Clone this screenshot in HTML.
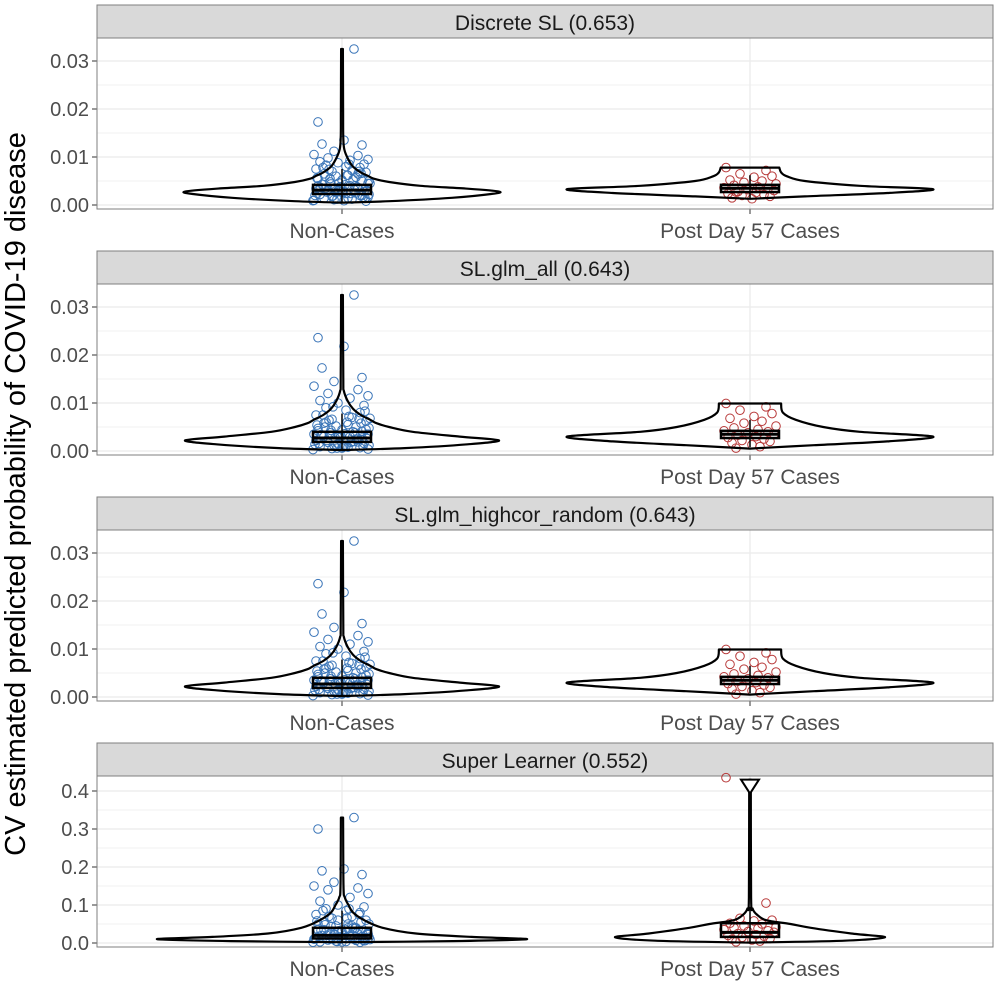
<!DOCTYPE html>
<html><head><meta charset="utf-8"><style>
body{margin:0;background:#fff;font-family:"Liberation Sans",sans-serif}
</style></head><body>
<svg id="c" width="1000" height="1000" xmlns="http://www.w3.org/2000/svg">
<text transform="translate(25,494) rotate(-90)" text-anchor="middle" font-size="29" fill="#000">CV estimated predicted probability of COVID-19 disease</text>
</svg>
<script>
const titles=["Discrete SL (0.653)","SL.glm_all (0.643)","SL.glm_highcor_random (0.643)","Super Learner (0.552)"];
const categories=["Non-Cases","Post Day 57 Cases"];
const tickVals=[[0,0.01,0.02,0.03],[0,0.01,0.02,0.03],[0,0.01,0.02,0.03],[0,0.1,0.2,0.3,0.4]];
const tickLabels=[["0.00","0.01","0.02","0.03"],["0.00","0.01","0.02","0.03"],["0.00","0.01","0.02","0.03"],["0.0","0.1","0.2","0.3","0.4"]];
const violinNon=[
[[0.0005,0],[0.0008,0.3],[0.0015,0.7],[0.0023,0.95],[0.0028,1],[0.0034,0.8],[0.004,0.5],[0.0048,0.3],[0.0055,0.2],[0.006,0.17],[0.0068,0.12],[0.008,0.07],[0.0095,0.04],[0.0115,0.015],[0.014,0.008],[0.02,0.007],[0.0325,0.006]],
[[0.0002,0],[0.0006,0.4],[0.0014,0.8],[0.0022,1],[0.003,0.75],[0.004,0.45],[0.005,0.3],[0.0058,0.22],[0.0065,0.18],[0.0075,0.12],[0.0088,0.07],[0.0105,0.035],[0.0125,0.012],[0.015,0.008],[0.0325,0.006]],
[[0.0002,0],[0.0006,0.4],[0.0014,0.8],[0.0022,1],[0.003,0.75],[0.004,0.45],[0.005,0.3],[0.0058,0.22],[0.0065,0.18],[0.0075,0.12],[0.0088,0.07],[0.0105,0.035],[0.0125,0.012],[0.015,0.008],[0.0325,0.006]],
[[0.002,0],[0.005,0.6],[0.01,1],[0.016,0.7],[0.025,0.4],[0.04,0.22],[0.06,0.12],[0.08,0.06],[0.1,0.035],[0.12,0.015],[0.15,0.008],[0.33,0.006]]];
const violinCase=[
[[0.0013,0],[0.0018,0.3],[0.0025,0.75],[0.0033,1],[0.004,0.6],[0.005,0.3],[0.006,0.2],[0.0068,0.17],[0.0078,0.16]],
[[0.0005,0],[0.0012,0.35],[0.002,0.75],[0.003,1],[0.004,0.6],[0.005,0.4],[0.0065,0.25],[0.008,0.18],[0.0099,0.17]],
[[0.0005,0],[0.0012,0.35],[0.002,0.75],[0.003,1],[0.004,0.6],[0.005,0.4],[0.0065,0.25],[0.008,0.18],[0.0099,0.17]],
[[0.001,0],[0.006,0.7],[0.015,1],[0.025,0.75],[0.04,0.45],[0.05,0.3],[0.06,0.12],[0.075,0.05],[0.09,0.02],[0.12,0.008],[0.43,0.006]]];
const violinMaxHalf=[[157,183],[157,183],[157,183],[185,135]];
const boxNon=[[0.0023,0.0031,0.0042,0.0005,0.0075],[0.0019,0.0027,0.0040,0.0003,0.0078],[0.0019,0.0027,0.0040,0.0003,0.0078],[0.012,0.020,0.040,0.001,0.085]];
const boxCase=[[0.0027,0.0035,0.0042,0.0013,0.0062],[0.0027,0.0035,0.0042,0.0008,0.0065],[0.0027,0.0035,0.0042,0.0008,0.0065],[0.016,0.028,0.052,0.002,0.095]];
const ptsNon=[
[0.0325,0.0173,0.0135,0.0127,0.0125,0.0112,0.0105,0.0103,0.0098,0.0095,0.0093,0.009,0.0088,0.0085,0.0083,0.008,0.0078,0.0075,0.0072,0.007,0.0068,0.0065,0.0062,0.006,0.0058,0.0055,0.0052,0.005,0.0048,0.0045,0.0043,0.004,0.0038,0.0036,0.0034,0.0032,0.003,0.0028,0.0026,0.0024,0.0022,0.002,0.0018,0.0016,0.0014,0.0012,0.001,0.0009,0.0008,0.003,0.0025,0.0035,0.0015,0.004,0.002,0.0011,0.0045,0.0055,0.0065,0.0028],
[0.0325,0.0236,0.0218,0.0173,0.0153,0.0145,0.0135,0.0128,0.012,0.0115,0.011,0.0105,0.01,0.0095,0.009,0.0085,0.008,0.0075,0.007,0.0066,0.0062,0.0058,0.0055,0.0052,0.005,0.0047,0.0044,0.0041,0.0038,0.0035,0.0032,0.003,0.0028,0.0025,0.0022,0.002,0.0018,0.0016,0.0013,0.0011,0.0009,0.0007,0.0005,0.0004,0.003,0.002,0.0035,0.001,0.0045,0.0015,0.0025,0.006,0.0008,0.0042,0.0027,0.0012,0.0068,0.0033,0.0019,0.0006],
[0.0325,0.0236,0.0218,0.0173,0.0153,0.0145,0.0135,0.0128,0.012,0.0115,0.011,0.0105,0.01,0.0095,0.009,0.0085,0.008,0.0075,0.007,0.0066,0.0062,0.0058,0.0055,0.0052,0.005,0.0047,0.0044,0.0041,0.0038,0.0035,0.0032,0.003,0.0028,0.0025,0.0022,0.002,0.0018,0.0016,0.0013,0.0011,0.0009,0.0007,0.0005,0.0004,0.003,0.002,0.0035,0.001,0.0045,0.0015,0.0025,0.006,0.0008,0.0042,0.0027,0.0012,0.0068,0.0033,0.0019,0.0006],
[0.33,0.3,0.195,0.19,0.18,0.16,0.15,0.145,0.14,0.13,0.12,0.11,0.1,0.095,0.09,0.085,0.08,0.075,0.07,0.065,0.06,0.055,0.05,0.045,0.04,0.035,0.03,0.028,0.025,0.022,0.02,0.018,0.016,0.014,0.012,0.01,0.008,0.006,0.005,0.004,0.003,0.002,0.015,0.025,0.035,0.045,0.01,0.02,0.03,0.06,0.007,0.012,0.04,0.05,0.017,0.023,0.009,0.011,0.013,0.003]];
const ptsNonDense=[
[0.0012,0.0016,0.002,0.0024,0.0027,0.003,0.0033,0.0036,0.004,0.0044,0.005,0.0056,0.0062,0.007,0.0078,0.0014,0.0019,0.0026,0.0032,0.0038,0.0046,0.0053,0.006,0.0066,0.0074,0.0085,0.0009,0.0022,0.0034,0.0042],
[0.0006,0.001,0.0014,0.0018,0.0022,0.0026,0.003,0.0034,0.0038,0.0043,0.0048,0.0054,0.006,0.0067,0.0075,0.0083,0.0092,0.0008,0.0016,0.0024,0.0032,0.004,0.005,0.0058,0.0064,0.0072,0.0003,0.0012,0.0028,0.0036],
[0.0006,0.001,0.0014,0.0018,0.0022,0.0026,0.003,0.0034,0.0038,0.0043,0.0048,0.0054,0.006,0.0067,0.0075,0.0083,0.0092,0.0008,0.0016,0.0024,0.0032,0.004,0.005,0.0058,0.0064,0.0072,0.0003,0.0012,0.0028,0.0036],
[0.004,0.008,0.012,0.016,0.02,0.024,0.028,0.033,0.038,0.044,0.05,0.058,0.066,0.075,0.085,0.006,0.01,0.014,0.018,0.026,0.032,0.04,0.048,0.055,0.07,0.09,0.002,0.015,0.022,0.036]];
const jitNon=[12,-24,2,-20,20,-8,-28,16,-14,26,8,-22,-4,22,-16,4,18,-26,10,-10,24,-18,6,-6,14,-24,0,20,-12,26,-20,8,-2,16,-26,12,-14,22,-6,4,-22,18,-10,26,-18,10,-28,2,24,-4,14,-16,6,-24,20,-8,28,-12,16,0];
const jitDense=[-5,21,-27,9,-15,25,-1,-21,13,-11,27,-25,5,17,-19,23,-9,1,-23,15,-3,11,-17,19,-13,7,-29,27,-7,3];
const ptsCase=[
[0.0078,0.0072,0.0065,0.006,0.0058,0.0052,0.005,0.0047,0.0044,0.0041,0.0038,0.0036,0.0034,0.0032,0.003,0.0028,0.0026,0.0024,0.0022,0.002,0.0018,0.0015,0.0013,0.0035,0.0027],
[0.0099,0.0092,0.0085,0.0078,0.0072,0.0068,0.0062,0.0058,0.0052,0.0048,0.0045,0.0042,0.004,0.0038,0.0035,0.0033,0.003,0.0028,0.0025,0.0022,0.002,0.0017,0.0013,0.0009,0.0006],
[0.0099,0.0092,0.0085,0.0078,0.0072,0.0068,0.0062,0.0058,0.0052,0.0048,0.0045,0.0042,0.004,0.0038,0.0035,0.0033,0.003,0.0028,0.0025,0.0022,0.002,0.0017,0.0013,0.0009,0.0006],
[0.435,0.105,0.065,0.06,0.058,0.052,0.05,0.045,0.042,0.04,0.038,0.035,0.032,0.03,0.028,0.025,0.022,0.02,0.018,0.015,0.012,0.01,0.008,0.005,0.003]];
const jitCase=[-24,16,-10,22,4,-20,12,-6,26,-16,8,-26,18,-2,24,-12,6,-22,14,-8,20,-18,2,10,-14];

const svg=document.getElementById('c');
const NS="http://www.w3.org/2000/svg";
function mk(tag,attrs,parent){const e=document.createElementNS(NS,tag);for(const k in attrs)e.setAttribute(k,attrs[k]);(parent||svg).appendChild(e);return e;}
function smooth(pts){
  let d='M'+pts[0][0].toFixed(1)+','+pts[0][1].toFixed(1);
  for(let i=0;i<pts.length-1;i++){
    const p0=pts[Math.max(0,i-1)],p1=pts[i],p2=pts[i+1],p3=pts[Math.min(pts.length-1,i+2)];
    const c1=[p1[0]+(p2[0]-p0[0])/6,p1[1]+(p2[1]-p0[1])/6];
    const c2=[p2[0]-(p3[0]-p1[0])/6,p2[1]-(p3[1]-p1[1])/6];
    d+=` C${c1[0].toFixed(1)},${c1[1].toFixed(1)} ${c2[0].toFixed(1)},${c2[1].toFixed(1)} ${p2[0].toFixed(1)},${p2[1].toFixed(1)}`;
  }
  return d;
}
const X0=97,X1=993,catX=[342,750];
for(let p=0;p<4;p++){
  const top=5+p*246;
  const g=mk('g',{});
  
  
  const ptop=top+33,pbot=top+204;
  const tv=tickVals[p],tmax=tv[tv.length-1];
  const y0=top+200,yT=top+(p==3?48:56);
  const sy=v=>y0-(v/tmax)*(y0-yT);
  const strip=mk('rect',{x:X0,y:top,width:X1-X0,height:33,fill:'#d9d9d9',stroke:'#7f7f7f','stroke-width':1},g);
  
  
  const st=mk('text',{x:(X0+X1)/2,y:top+25,'text-anchor':'middle','font-size':21,fill:'#1a1a1a'},g);
  st.textContent=titles[p];
  
  
  mk('rect',{x:X0,y:ptop,width:X1-X0,height:pbot-ptop,fill:'#fff'},g);
  for(let i=0;i<tv.length;i++){
    const y=sy(tv[i]);
    mk('line',{x1:X0,x2:X1,y1:y,y2:y,stroke:'#ebebeb','stroke-width':1.3},g);
    const ym=sy(tv[i]+(tv[1]-tv[0])/2);
    if(ym>ptop) mk('line',{x1:X0,x2:X1,y1:ym,y2:ym,stroke:'#f2f2f2','stroke-width':1},g);
    mk('line',{x1:X0-5,x2:X0,y1:y,y2:y,stroke:'#333'},g);
    const tl=mk('text',{x:X0-8,y:y+7,'text-anchor':'end','font-size':20,fill:'#4d4d4d'},g);
    tl.textContent=tickLabels[p][i];
    
    
  }
  catX.forEach((cx,ci)=>{
    mk('line',{x1:cx,x2:cx,y1:ptop,y2:pbot,stroke:'#ebebeb','stroke-width':1.3},g);
    mk('line',{x1:cx,x2:cx,y1:pbot,y2:pbot+5,stroke:'#333'},g);
    const xl=mk('text',{x:cx,y:top+233,'text-anchor':'middle','font-size':21,fill:'#4d4d4d'},g);
    xl.textContent=categories[ci];
    
    
  });
  mk('rect',{x:X0,y:ptop,width:X1-X0,height:pbot-ptop,fill:'none',stroke:'#7f7f7f'},g);
  // points
  [[ptsNon[p],catX[0],'#3a75b8',jitNon],[ptsNonDense[p],catX[0],'#3a75b8',jitDense],[ptsCase[p],catX[1],'#b83a3a',jitCase]].forEach(([vals,cx,col,jit])=>{
    vals.forEach((v,i)=>{
      const c=mk('circle',{cx:cx+jit[i%jit.length],cy:sy(v),r:4.3,fill:'none',stroke:col,'stroke-width':1},g);
      
      
    });
  });
  // violins
  [violinNon[p],violinCase[p]].forEach((prof,ci)=>{
    const cx=catX[ci],mh=violinMaxHalf[p][ci];
    const r=prof.map(d=>[cx+d[1]*mh,sy(d[0])]);
    const l=prof.map(d=>[cx-d[1]*mh,sy(d[0])]);
    let d=smooth(r);
    const lr=l.slice().reverse();
    d+=' L'+lr[0][0].toFixed(1)+','+lr[0][1].toFixed(1)+smooth(lr).replace(/^M[^C]*/,' ');
    const v=mk('path',{d:d+'Z',fill:'none',stroke:'#000','stroke-width':2.2,'stroke-linejoin':'round'},g);
    
    
  });
  // boxes
  [boxNon[p],boxCase[p]].forEach((b,ci)=>{
    const cx=catX[ci];
    mk('line',{x1:cx,x2:cx,y1:sy(b[3]),y2:sy(b[4]),stroke:'#000','stroke-width':1.5},g);
    const bx=mk('rect',{x:cx-29,y:sy(b[2]),width:58,height:sy(b[0])-sy(b[2]),fill:'none',stroke:'#000','stroke-width':2.5},g);
    
    
    mk('line',{x1:cx-29,x2:cx+29,y1:sy(b[1]),y2:sy(b[1]),stroke:'#000','stroke-width':3},g);
  });
  if(p==3){
    const yt=sy(violinCase[3][violinCase[3].length-1][0]);
    mk('path',{d:`M${catX[1]-9},${yt} L${catX[1]+9},${yt} L${catX[1]},${yt+14} Z`,fill:'#fff',stroke:'#000','stroke-width':2},g);
  }
}
</script>
</body></html>
